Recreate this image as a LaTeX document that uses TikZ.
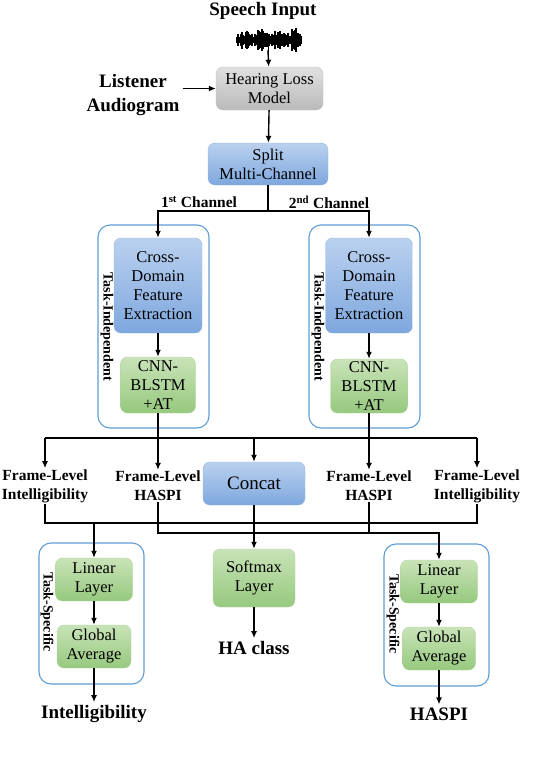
\documentclass[tikz,border=0pt]{standalone}
\usepackage{fontspec}
\setmainfont{Liberation Serif}
\usetikzlibrary{arrows.meta}

\definecolor{bluetop}{RGB}{186,209,239}
\definecolor{bluebot}{RGB}{126,167,222}
\definecolor{blueline}{RGB}{150,182,224}
\definecolor{greentop}{RGB}{201,227,184}
\definecolor{greenbot}{RGB}{150,201,126}
\definecolor{greenline}{RGB}{178,212,162}
\definecolor{graytop}{RGB}{224,224,224}
\definecolor{graybot}{RGB}{186,186,186}
\definecolor{tfblue}{RGB}{96,156,212}
\newcommand{\boxfont}{\fontsize{16.5}{19}\selectfont}

\tikzset{
  procbox/.style={rounded corners=7pt, align=center, inner sep=1pt, font=\boxfont},
  bluebox/.style={procbox, draw=blueline, top color=bluetop, bottom color=bluebot},
  greenbox/.style={procbox, draw=greenline, top color=greentop, bottom color=greenbot},
  graybox/.style={procbox, draw=gray!50, top color=graytop, bottom color=graybot},
  taskframe/.style={draw=tfblue, line width=1.1pt, rounded corners=12pt},
  lbl/.style={font=\bfseries\fontsize{19}{24}\selectfont, align=center, inner sep=3pt},
  flbl/.style={font=\bfseries\fontsize{15.5}{19}\selectfont, align=center, inner sep=1pt},
  side/.style={font=\bfseries\fontsize{14}{16}\selectfont, rotate=-90},
  conn/.style={line width=1.4pt},
  arr/.style={conn, -{Latex[length=7pt,width=6pt]}}
}

\begin{document}
\begin{tikzpicture}[x=1pt, y=-1pt]
\useasboundingbox (0,0) rectangle (534,758);

% input
\node[lbl] (speech) at (263,11) {Speech Input};
\pgfmathsetseed{5}
\foreach \i in {0,...,64} {
  \pgfmathsetmacro{\wx}{237+\i}
  \pgfmathsetmacro{\wa}{(3+9*rnd)*(0.45+0.55*abs(sin(\i*11)))}
  \draw[line width=1.1pt] (\wx,40-\wa) -- (\wx,40+\wa);
}
\draw[line width=1pt] (268,40) -- (268,54);
\coordinate (wave) at (268,50);
\node[graybox, minimum width=107pt, minimum height=43pt] (hl) at (269.5,88.5) {Hearing Loss\\Model};
\node[lbl] (aud) at (133,95) {Listener\\Audiogram};
\node[bluebox, minimum width=120pt, minimum height=42pt] (split) at (268,164) {Split\\Multi-Channel};
\draw[arr] (wave) -- (hl);
\draw[arr] (aud.east |- hl) -- (hl);
\draw[arr] (hl) -- (split);

% channels
\node[taskframe, minimum width=111pt, minimum height=203pt] (tind1) at (153.5,326.5) {};
\node[taskframe, minimum width=111pt, minimum height=203pt] (tind2) at (364.5,326.5) {};
\node[side] at (107,327) {Task-Independent};
\node[side] at (318,327) {Task-Independent};
\node[bluebox, minimum width=88pt, minimum height=95pt] (cdf1) at (158,285.5) {Cross-\\Domain\\Feature\\Extraction};
\node[bluebox, minimum width=87pt, minimum height=95pt] (cdf2) at (369,285.5) {Cross-\\Domain\\Feature\\Extraction};
\node[greenbox, minimum width=75pt, minimum height=56pt] (cnn1) at (158,385) {CNN-\\BLSTM\\+AT};
\node[greenbox, minimum width=77pt, minimum height=54pt] (cnn2) at (369,386) {CNN-\\BLSTM\\+AT};
\coordinate (fork) at (268,211);
\draw[conn] (split) -- (fork);
\draw[arr] (fork) -| (cdf1);
\draw[arr] (fork) -| (cdf2);
\node[flbl] (ch1) at (199,202) {1\textsuperscript{st} Channel};
\node[flbl] (ch2) at (329,202) {2\textsuperscript{nd} Channel};
\draw[arr] (cdf1) -- (cnn1);
\draw[arr] (cdf2) -- (cnn2);

% frame level
\coordinate (fbus) at (0,438);
\coordinate (frow) at (0,486);
\node[flbl] (fli1) at (45,486) {Frame-Level\\Intelligibility};
\node[flbl] (fh1) at (cnn1 |- frow) {Frame-Level\\HASPI};
\node[bluebox, minimum width=102pt, minimum height=43pt, font=\fontsize{19}{23}\selectfont] (concat) at (254,483.5) {Concat};
\node[flbl] (fh2) at (cnn2 |- frow) {Frame-Level\\HASPI};
\node[flbl] (fli2) at (477,486) {Frame-Level\\Intelligibility};
\draw[conn] (cnn1) -- (cnn1 |- fbus);
\draw[conn] (cnn2) -- (cnn2 |- fbus);
\draw[conn] (fli1 |- fbus) -- (fli2 |- fbus);
\foreach \n in {fli1,fh1,concat,fh2,fli2}
  \draw[arr] (\n |- fbus) -- (\n);

% task specific
\coordinate (ibus) at (0,523);
\coordinate (hbus) at (0,533);
\node[taskframe, minimum width=105pt, minimum height=141pt] (tsp1) at (91.5,613.5) {};
\node[taskframe, minimum width=105pt, minimum height=142pt] (tsp2) at (436.5,615) {};
\node[side] at (47,612) {Task-Specific};
\node[side] at (393,614) {Task-Specific};
\node[greenbox, minimum width=77pt, minimum height=43pt] (lin1) at (94,579.5) {Linear\\Layer};
\node[greenbox, minimum width=74pt, minimum height=43pt] (ga1) at (94,646.5) {Global\\Average};
\node[greenbox, minimum width=82pt, minimum height=58pt] (soft) at (254,578) {Softmax\\Layer};
\node[greenbox, minimum width=77pt, minimum height=43pt] (lin2) at (439,581.5) {Linear\\Layer};
\node[greenbox, minimum width=73pt, minimum height=43pt] (ga2) at (439,648.5) {Global\\Average};
\node[lbl] (intel) at (94,714) {Intelligibility};
\node[lbl] (hacl) at (254,648) {HA class};
\node[lbl] (haspi) at (439,714) {HASPI};
\draw[conn] (fli1) |- (ibus -| fli2) -- (fli2);
\draw[arr] (ibus -| lin1) -- (lin1);
\draw[arr] (fh1) |- (hbus -| lin2) -- (lin2);
\draw[conn] (fh2) -- (fh2 |- hbus);
\draw[arr] (concat) -- (soft);
\draw[arr] (lin1) -- (ga1);
\draw[arr] (ga1) -- (intel);
\draw[arr] (soft) -- (hacl);
\draw[arr] (lin2) -- (ga2);
\draw[arr] (ga2) -- (haspi);
\end{tikzpicture}
\end{document}
